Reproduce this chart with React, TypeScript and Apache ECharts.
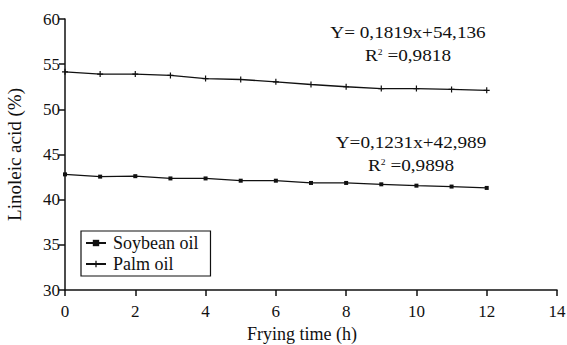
import React, { useEffect, useRef } from "react";
import * as echarts from "echarts";

const hours = [0, 1, 2, 3, 4, 5, 6, 7, 8, 9, 10, 11, 12];
const soybean = [42.8, 42.55, 42.6, 42.35, 42.35, 42.1, 42.1, 41.85, 41.85, 41.7, 41.55, 41.45, 41.3];
const palm = [54.15, 53.9, 53.9, 53.75, 53.4, 53.3, 53.05, 52.75, 52.5, 52.3, 52.3, 52.2, 52.1];
const eqPalm = ["Y= 0,1819x+54,136", "0,9818"];
const eqSoy = ["Y=0,1231x+42,989", "0,9898"];

const FONT = "Times New Roman, Liberation Serif, DejaVu Serif, serif";
const crossPath = "path://M4,0 L6,0 L6,4 L10,4 L10,6 L6,6 L6,10 L4,10 L4,6 L0,6 L0,4 L4,4 Z";

export default function App() {
  const ref = useRef<HTMLDivElement>(null);
  useEffect(() => {
    const chart = echarts.init(ref.current!, null, { renderer: "svg" });
    const eqText = (lines: string[], cx: number, y: number) => [
      {
        type: "text",
        x: cx,
        y: y,
        scaleX: 1.2,
        style: { text: lines[0], fontFamily: FONT, fontSize: 16, fill: "#111", align: "center", verticalAlign: "middle" },
      },
      {
        type: "text",
        x: cx,
        y: y + 23,
        scaleX: 1.2,
        style: {
          text: "{r|R}{s|2}{r| =" + lines[1] + "}",
          align: "center",
          verticalAlign: "middle",
          rich: {
            r: { fontFamily: FONT, fontSize: 16, fill: "#111" },
            s: { fontFamily: FONT, fontSize: 8, fill: "#111", verticalAlign: "top", padding: [0, 0, 8, 0] },
          },
        },
      },
    ];
    chart.setOption({
      animation: false,
      backgroundColor: "#fff",
      textStyle: { fontFamily: FONT },
      grid: { left: 65, right: 10, top: 19, bottom: 55, containLabel: false, outerBoundsMode: "none" },
      legend: {
        left: 81,
        top: 231,
        orient: "vertical",
        itemGap: 3,
        itemWidth: 20,
        itemHeight: 8,
        borderColor: "#111",
        borderWidth: 1.2,
        borderRadius: 0,
        padding: [3, 12, 3, 4],
        textStyle: { fontFamily: FONT, fontSize: 18, color: "#111", padding: [0, 0, 0, 2] },
        data: ["Soybean oil", "Palm oil"],
      },
      xAxis: {
        type: "value",
        min: 0,
        max: 14,
        interval: 2,
        name: "Frying time (h)",
        nameLocation: "middle",
        nameGap: 33,
        nameTextStyle: { fontFamily: FONT, fontSize: 18, color: "#111", padding: [0, 18, 0, 0] },
        axisLine: { lineStyle: { color: "#111", width: 1.5 } },
        axisTick: { inside: false, length: 6, lineStyle: { color: "#111", width: 1.5 } },
        axisLabel: { fontFamily: FONT, fontSize: 17, color: "#111", margin: 13 },
        splitLine: { show: false },
      },
      yAxis: {
        type: "value",
        min: 30,
        max: 60,
        interval: 5,
        name: "Linoleic acid (%)",
        nameLocation: "middle",
        nameGap: 41,
        nameTextStyle: { fontFamily: FONT, fontSize: 19, color: "#111" },
        axisLine: { show: true, lineStyle: { color: "#111", width: 1.5 } },
        axisTick: { show: true, inside: false, length: 6, lineStyle: { color: "#111", width: 1.5 } },
        axisLabel: { fontFamily: FONT, fontSize: 17, color: "#111", margin: 5 },
        splitLine: { show: false },
      },
      series: [
        {
          name: "Soybean oil",
          type: "line",
          data: hours.map((h, i) => [h, soybean[i]]),
          symbol: "rect",
          symbolSize: 4,
          lineStyle: { color: "#111", width: 1.3 },
          itemStyle: { color: "#111" },
        },
        {
          name: "Palm oil",
          type: "line",
          data: hours.map((h, i) => [h, palm[i]]),
          symbol: crossPath,
          symbolSize: 6,
          lineStyle: { color: "#111", width: 1.3 },
          itemStyle: { color: "#111" },
        },
      ],
      graphic: [...eqText(eqPalm, 408, 33), ...eqText(eqSoy, 411, 143)],
    });
    return () => chart.dispose();
  }, []);
  return <div ref={ref} style={{ width: 567, height: 345, position: "absolute", left: 0, top: 0 }} />;
}
